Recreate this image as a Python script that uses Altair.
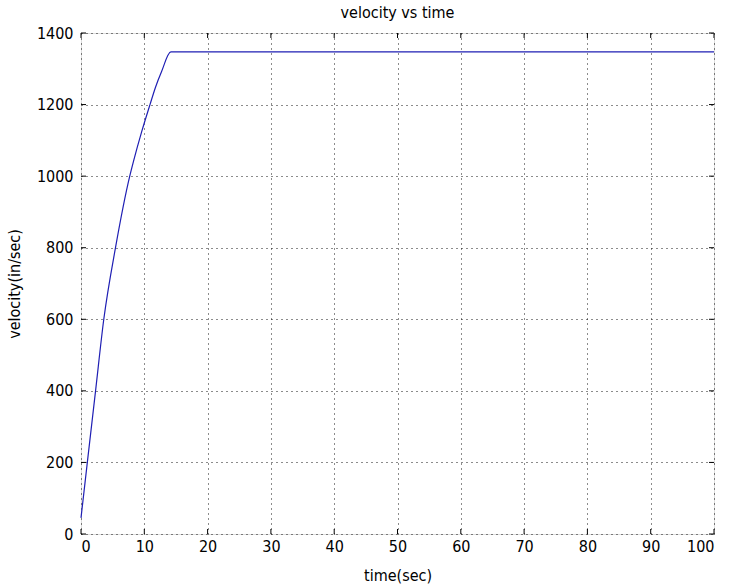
import altair as alt
import pandas as pd

time_s = [0, 1.0, 2.3, 3.6, 5.45, 7.7, 8.3, 9.6, 10.9, 11.8, 12.7, 14.2, 100]
velocity = [45, 200, 400, 600, 800, 1000, 1042, 1125, 1200, 1250, 1291, 1347, 1347]
x_ticks = [0, 10, 20, 30, 40, 50, 60, 70, 80, 90, 100]
y_ticks = [0, 200, 400, 600, 800, 1000, 1200, 1400]

FONT = "Liberation Sans Narrow, DejaVu Sans Condensed, Liberation Sans"
W, H = 633, 501

df = pd.DataFrame({"t": time_s, "v": velocity})
xt = pd.DataFrame({"t": x_ticks})
yt = pd.DataFrame({"v": y_ticks})

xs = alt.Scale(domain=[0, 100], nice=False, zero=False)
ys = alt.Scale(domain=[0, 1400], nice=False)

x_axis = alt.Axis(values=x_ticks, format="d", title="time(sec)", grid=True, gridDash=[1, 4],
                  gridColor="#000000", gridOpacity=0.9, ticks=False, domain=False, labelFont=FONT,
                  labelFontSize=16, labelColor="#000000", labelPadding=4, titleFont=FONT,
                  titleFontSize=16, titleFontWeight="normal", titleColor="#000000", titlePadding=13)
y_axis = alt.Axis(values=y_ticks, format="d", title="velocity(in/sec)", grid=True, gridDash=[1, 4],
                  gridColor="#000000", gridOpacity=0.9, ticks=False, domain=False, labelFont=FONT,
                  labelFontSize=16, labelColor="#000000", labelPadding=8, titleFont=FONT,
                  titleFontSize=16, titleFontWeight="normal", titleColor="#000000", titlePadding=14)

line = alt.Chart(df).mark_line(color="#1f1fb4", strokeWidth=1.2, interpolate="monotone").encode(
    x=alt.X("t:Q", scale=xs, axis=x_axis),
    y=alt.Y("v:Q", scale=ys, axis=y_axis),
)

bx = alt.Chart(xt).mark_rule(color="#000000", strokeWidth=1).encode(
    x=alt.X("t:Q", scale=xs), y=alt.value(H), y2=alt.value(H - 5))
tx = alt.Chart(xt).mark_rule(color="#000000", strokeWidth=1).encode(
    x=alt.X("t:Q", scale=xs), y=alt.value(0), y2=alt.value(5))
ly = alt.Chart(yt).mark_rule(color="#000000", strokeWidth=1).encode(
    y=alt.Y("v:Q", scale=ys), x=alt.value(0), x2=alt.value(5))
ry = alt.Chart(yt).mark_rule(color="#000000", strokeWidth=1).encode(
    y=alt.Y("v:Q", scale=ys), x=alt.value(W), x2=alt.value(W - 5))

chart = alt.layer(line, bx, tx, ly, ry).properties(
    width=W, height=H,
    title=alt.TitleParams("velocity vs time", font=FONT, fontSize=16, fontWeight="normal",
                          color="#000000", offset=4),
    autosize=alt.AutoSizeParams(type="none"),
    padding={"left": 81, "top": 33, "right": 15, "bottom": 54},
).configure_view(stroke="#000000", strokeWidth=1.2).configure(background="#ffffff")

chart.save("out.html", embed_options={"renderer": "svg", "actions": False})
